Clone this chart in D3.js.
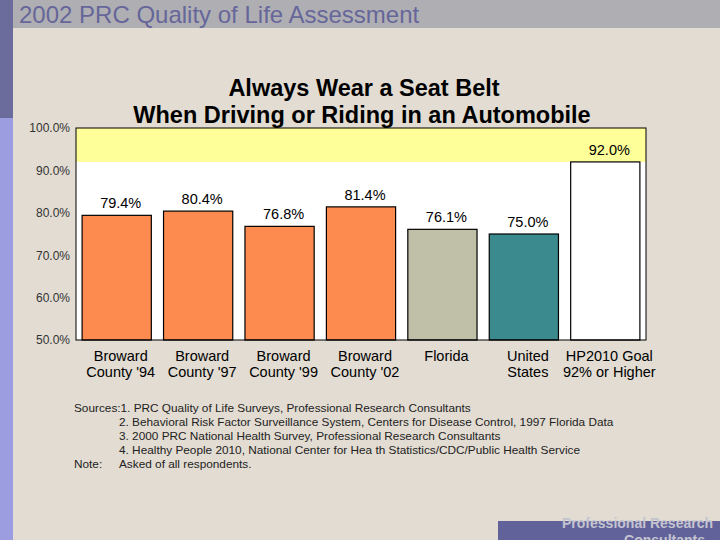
<!DOCTYPE html>
<html><head><meta charset="utf-8">
<script src="https://cdn.jsdelivr.net/npm/d3@7"></script>
<style>body{margin:0;padding:0;overflow:hidden;background:#e2dcd2}</style>
</head><body><svg id="c" width="720" height="540"></svg>
<script>
const categories = [["Broward","County '94"],["Broward","County '97"],["Broward","County '99"],["Broward","County '02"],["Florida",""],["United","States"],["HP2010 Goal","92% or Higher"]];
const values = [79.4, 80.4, 76.8, 81.4, 76.1, 75.0, 92.0];
const colors = ["#fd8a4e","#fd8a4e","#fd8a4e","#fd8a4e","#c0bfa8","#3a8a8e","#ffffff"];
const yTicks = [50, 60, 70, 80, 90, 100];
const goal = 92;
const sources = [
  ["Sources:1. PRC Quality of Life Surveys, Professional Research Consultants", ""],
  ["", "2. Behavioral Risk Factor Surveillance System, Centers for Disease Control, 1997 Florida Data"],
  ["", "3. 2000 PRC National Health Survey, Professional Research Consultants"],
  ["", "4. Healthy People 2010, National Center for Hea th Statistics/CDC/Public Health Service"],
  ["Note:", "Asked of all respondents."]
];

const svg = d3.select("#c");
const F = "Arial, 'Liberation Sans', sans-serif";
svg.append("rect").attr("width",720).attr("height",540).attr("fill","#e2dcd2");
svg.append("rect").attr("x",0).attr("y",0).attr("width",13).attr("height",118).attr("fill","#6c6c9c");
svg.append("rect").attr("x",0).attr("y",118).attr("width",13).attr("height",422).attr("fill","#9c9ce0");
svg.append("rect").attr("x",13).attr("y",0).attr("width",707).attr("height",28).attr("fill","#afafb3");
svg.append("text").attr("x",19).attr("y",23).attr("font-family",F).attr("font-size",24).attr("fill","#66669a").text("2002 PRC Quality of Life Assessment");

svg.append("text").attr("x",364).attr("y",96).attr("text-anchor","middle").attr("font-family",F).attr("font-weight","bold").attr("font-size",23.5).attr("fill","#000").text("Always Wear a Seat Belt");
svg.append("text").attr("x",362).attr("y",123).attr("text-anchor","middle").attr("font-family",F).attr("font-weight","bold").attr("font-size",23.5).attr("fill","#000").text("When Driving or Riding in an Automobile");

const L=76, R=646, T=128, B=340;
const x = d3.scaleBand().domain(d3.range(values.length)).range([L,R]).paddingInner(0.15).paddingOuter(0.075);
const y = d3.scaleLinear().domain([50,100]).range([B,T]);

svg.append("rect").attr("x",L).attr("y",T).attr("width",R-L).attr("height",B-T).attr("fill","#fff");
svg.append("rect").attr("x",L).attr("y",y(100)).attr("width",R-L).attr("height",y(goal)-y(100)).attr("fill","#ffff99");

const yAxis = d3.axisLeft(y).tickValues(yTicks).tickSize(0).tickPadding(6).tickFormat(d=>d.toFixed(1)+"%");
const ga = svg.append("g").attr("transform",`translate(${L},0)`).call(yAxis);
ga.select(".domain").remove();
ga.selectAll("text").attr("font-family",F).attr("font-size",12).attr("fill","#333");

svg.selectAll("rect.bar").data(values).join("rect").attr("class","bar")
  .attr("x",(d,i)=>x(i)).attr("y",d=>y(d)).attr("width",x.bandwidth()).attr("height",d=>B-y(d))
  .attr("fill",(d,i)=>colors[i]).attr("stroke","#000").attr("stroke-width",1.2);

svg.selectAll("text.val").data(values).join("text").attr("class","val")
  .attr("x",(d,i)=>x(i)+x.bandwidth()/2+4).attr("y",d=>y(d)-7)
  .attr("text-anchor","middle").attr("font-family",F).attr("font-size",14.5).attr("fill","#000")
  .text(d=>d.toFixed(1)+"%");

svg.append("rect").attr("x",L).attr("y",T).attr("width",R-L).attr("height",B-T).attr("fill","none").attr("stroke","#000").attr("stroke-width",1);

const cg = svg.selectAll("g.cat").data(categories).join("g").attr("class","cat")
  .attr("transform",(d,i)=>`translate(${x(i)+x.bandwidth()/2+4},0)`);
cg.append("text").attr("y",361).attr("text-anchor","middle").attr("font-family",F).attr("font-size",14.5).attr("fill","#000").text(d=>d[0]);
cg.append("text").attr("y",377).attr("text-anchor","middle").attr("font-family",F).attr("font-size",14.5).attr("fill","#000").text(d=>d[1]);

const sg = svg.selectAll("g.src").data(sources).join("g").attr("class","src")
  .attr("transform",(d,i)=>`translate(0,${412+i*14})`);
sg.append("text").attr("x",74).attr("font-family",F).attr("font-size",11.8).attr("fill","#222").text(d=>d[0]);
sg.append("text").attr("x",119).attr("font-family",F).attr("font-size",11.8).attr("fill","#222").text(d=>d[1]);

svg.append("rect").attr("x",498).attr("y",521).attr("width",222).attr("height",19).attr("fill","#62629a");
svg.append("text").attr("x",713).attr("y",528).attr("text-anchor","end").attr("font-family",F).attr("font-weight","bold").attr("font-size",14).attr("fill","#c4c4d0").text("Professional Research");
svg.append("text").attr("x",705).attr("y",545).attr("text-anchor","end").attr("font-family",F).attr("font-weight","bold").attr("font-size",14).attr("fill","#c4c4d0").text("Consultants");
</script></body></html>
